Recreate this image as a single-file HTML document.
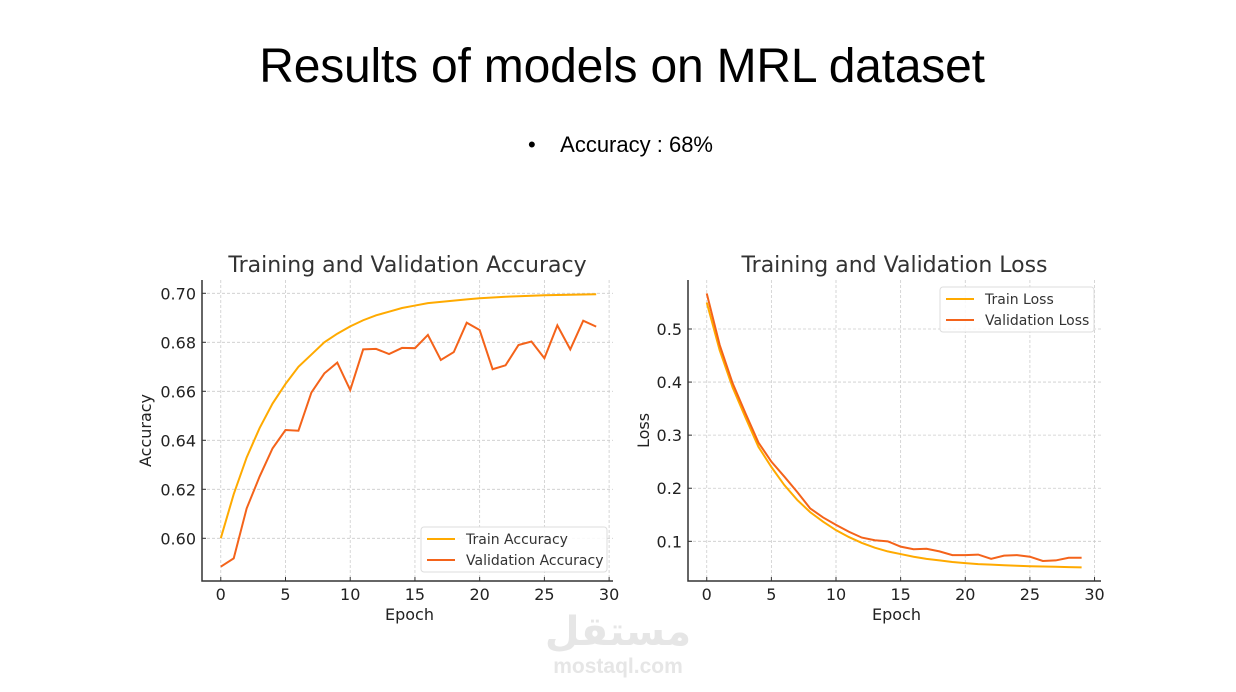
<!DOCTYPE html>
<html><head><meta charset="utf-8">
<style>
body{margin:0;background:#fff;width:1236px;height:692px;overflow:hidden;position:relative;font-family:"Liberation Sans",sans-serif}
#title{position:absolute;left:0;width:1236px;top:39px;text-align:center;font-size:48px;color:#000;letter-spacing:-0.2px;padding-left:8px;box-sizing:border-box}
#bullet{position:absolute;left:528px;top:132px;font-size:22px;color:#000}
svg{position:absolute;left:0;top:0}
</style></head><body>
<div id="title">Results of models on MRL dataset</div>
<div id="bullet">•&nbsp;&nbsp;&nbsp;&nbsp;Accuracy : 68%</div>
<svg id="s" width="1236" height="692"></svg>
<script>
const epochs=[...Array(30).keys()];
const trainAcc=[0.600,0.618,0.633,0.645,0.655,0.663,0.670,0.675,0.680,0.6835,0.6865,0.689,0.691,0.6925,0.694,0.695,0.696,0.6965,0.697,0.6975,0.698,0.6983,0.6986,0.6988,0.699,0.6992,0.6993,0.6994,0.6995,0.6996];
const valAcc=[0.5884,0.5918,0.6122,0.6252,0.6367,0.6442,0.6439,0.6595,0.6673,0.6717,0.6605,0.6771,0.6773,0.6752,0.6777,0.6776,0.683,0.6728,0.676,0.688,0.685,0.669,0.6706,0.6789,0.6803,0.6735,0.6869,0.6771,0.6888,0.6864];
const trainLoss=[0.55,0.46,0.39,0.333,0.278,0.24,0.206,0.178,0.155,0.137,0.121,0.108,0.097,0.088,0.081,0.076,0.071,0.067,0.064,0.061,0.059,0.057,0.056,0.055,0.054,0.053,0.0525,0.052,0.0515,0.051];
const valLoss=[0.567,0.47,0.398,0.341,0.286,0.25,0.222,0.193,0.162,0.145,0.131,0.118,0.107,0.102,0.100,0.090,0.085,0.086,0.081,0.074,0.074,0.075,0.067,0.073,0.074,0.071,0.063,0.064,0.069,0.069];
const xTicks=[0,5,10,15,20,25,30];
const accTicks=[0.60,0.62,0.64,0.66,0.68,0.70];
const lossTicks=[0.1,0.2,0.3,0.4,0.5];

const NS="http://www.w3.org/2000/svg";
const svg=document.getElementById('s');
function mk(t,a,p){const e=document.createElementNS(NS,t);for(const k in a)e.setAttribute(k,a[k]);(p||svg).appendChild(e);return e;}
const F='"DejaVu Sans","Liberation Sans",sans-serif';

function chart(o){
  const g=mk('g',{});
  
  
  const X=v=>o.x0+(v-o.xmin)/(o.xmax-o.xmin)*(o.x1-o.x0);
  const Y=v=>o.y1-(v-o.ymin)/(o.ymax-o.ymin)*(o.y1-o.y0);
  xTicks.forEach(t=>{const x=X(t);
    mk('line',{x1:x,x2:x,y1:o.y0,y2:o.y1,stroke:'#ccc','stroke-dasharray':'3,2','stroke-width':0.8},g);
    mk('line',{x1:x,x2:x,y1:o.y1,y2:o.y1-4,stroke:'#333'},g);
    const tx=mk('text',{x:x,y:o.y1+19,'text-anchor':'middle','font-size':16,fill:'#222','font-family':F},g);tx.textContent=t;
    });
  o.yt.forEach(t=>{const y=Y(t);
    mk('line',{x1:o.x0,x2:o.x1,y1:y,y2:y,stroke:'#ccc','stroke-dasharray':'3,2','stroke-width':0.8},g);
    mk('line',{x1:o.x0,x2:o.x0+4,y1:y,y2:y,stroke:'#333'},g);
    const tx=mk('text',{x:o.x0-6,y:y+6,'text-anchor':'end','font-size':16,fill:'#222','font-family':F},g);tx.textContent=o.fmt(t);
    });
  mk('path',{d:`M${o.x0},${o.y0}V${o.y1}H${o.x1}`,stroke:'#333','stroke-width':1.5,fill:'none'},g);
  const cols=['#FFAA00','#F4631A'];
  o.series.forEach((s,i)=>{
    const p=mk('polyline',{points:epochs.map((e,j)=>X(e)+','+Y(s[j])).join(' '),fill:'none',stroke:cols[i],'stroke-width':2},g);
    });
  let t=mk('text',{x:(o.x0+o.x1)/2,y:272,'text-anchor':'middle','font-size':22,fill:'#333','font-family':F},g);t.textContent=o.title;
  
  t=mk('text',{x:(o.x0+o.x1)/2+2,y:620,'text-anchor':'middle','font-size':16,fill:'#222','font-family':F},g);t.textContent='Epoch';
  
  t=mk('text',{x:0,y:0,transform:`translate(${o.ylx},${(o.y0+o.y1)/2}) rotate(-90)`,'text-anchor':'middle','font-size':16,fill:'#222','font-family':F},g);t.textContent=o.ylab;
  
  const L=o.leg;
  const lg=mk('g',{},g);
  mk('rect',{x:L.x,y:L.y,width:L.w,height:45,rx:3,fill:'#fff','fill-opacity':0.85,stroke:'#ddd'},lg);
  o.labels.forEach((lb,i)=>{const yy=L.y+12+i*21;
    mk('line',{x1:L.x+6,x2:L.x+34,y1:yy,y2:yy,stroke:cols[i],'stroke-width':2},lg);
    const tt=mk('text',{x:L.x+45,y:yy+5,'font-size':14,fill:'#333','font-family':F},lg);tt.textContent=lb;
    });
}
chart({name:'accuracy-chart',x0:202,x1:613,y0:280,y1:581,xmin:-1.45,xmax:30.3,ymin:0.70-(581-293.3)/2450,ymax:0.70+(293.3-280)/2450,
  yt:accTicks,fmt:v=>v.toFixed(2),series:[trainAcc,valAcc],sn:['train-accuracy','validation-accuracy'],
  title:'Training and Validation Accuracy',ylab:'Accuracy',ylx:151,labels:['Train Accuracy','Validation Accuracy'],leg:{x:421,y:527,w:186}});
chart({name:'loss-chart',x0:688,x1:1101,y0:280,y1:581,xmin:-1.45,xmax:30.5,ymin:0.5-(581-329)/530.8,ymax:0.5+(329-280)/530.8,
  yt:lossTicks,fmt:v=>v.toFixed(1),series:[trainLoss,valLoss],sn:['train-loss','validation-loss'],
  title:'Training and Validation Loss',ylab:'Loss',ylx:649,labels:['Train Loss','Validation Loss'],leg:{x:940,y:287,w:154}});
const w1=mk('text',{x:618,y:645,'text-anchor':'middle','font-size':40,'font-weight':'bold',fill:'#e6e6e6','font-family':'"DejaVu Sans",sans-serif'});w1.textContent='مستقل';

const w2=mk('text',{x:618,y:673,'text-anchor':'middle','font-size':21,'font-weight':'bold',fill:'#e6e6e6','font-family':'"Liberation Sans",sans-serif'});w2.textContent='mostaql.com';

</script>
</body></html>
